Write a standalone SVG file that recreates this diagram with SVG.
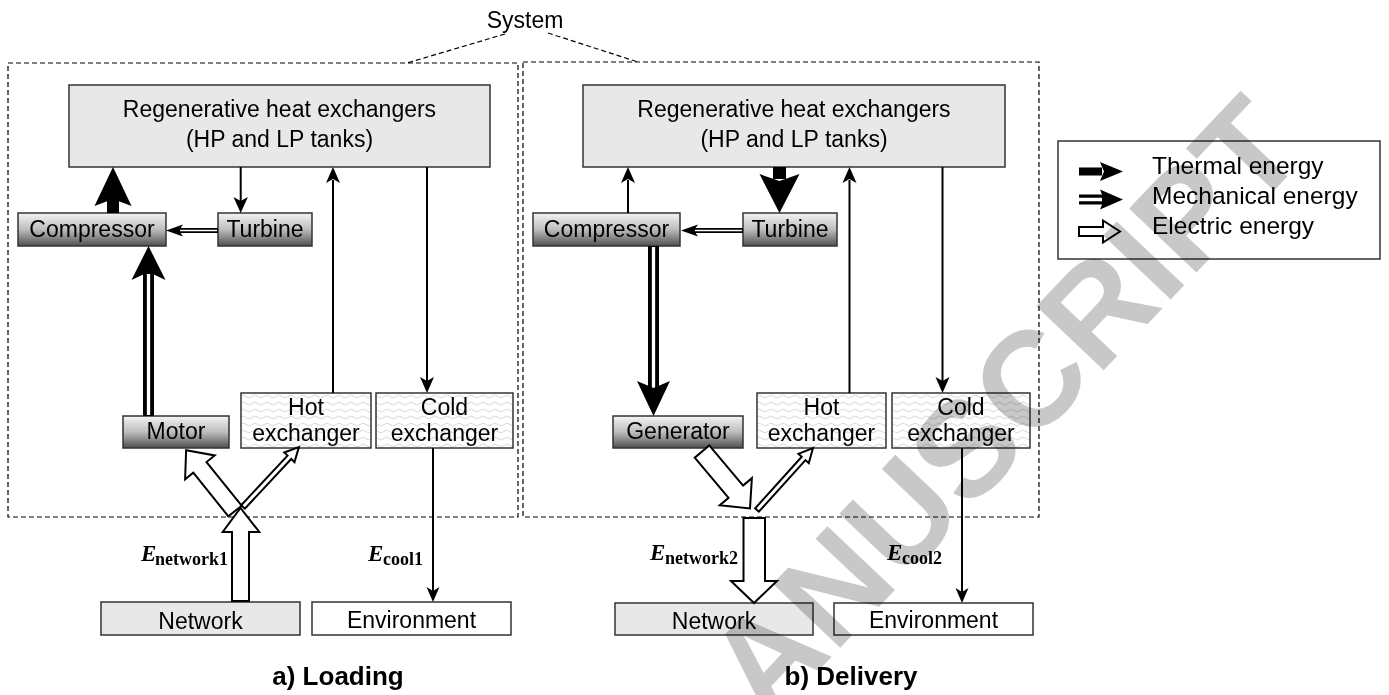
<svg xmlns="http://www.w3.org/2000/svg" width="1389" height="695" viewBox="0 0 1389 695">
<defs>
<linearGradient id="g3d" x1="0" y1="0" x2="0" y2="1">
<stop offset="0" stop-color="#f4f4f4"/>
<stop offset="0.5" stop-color="#bdbdbd"/>
<stop offset="1" stop-color="#505050"/>
</linearGradient>
<pattern id="wave" width="12" height="7" patternUnits="userSpaceOnUse">
<rect width="12" height="7" fill="#fff"/>
<path d="M0,4.5 Q3,1.5 6,4.5 T12,4.5" fill="none" stroke="#d2d2d2" stroke-width="0.9"/>
</pattern>
</defs>
<style>
.t{font-family:"Liberation Sans",Arial,sans-serif;font-size:23px;fill:#000;text-anchor:middle}
.box{stroke:#333;stroke-width:1.5}
.hx{fill:#e8e8e8}
.g{fill:url(#g3d)}
.w{fill:url(#wave)}
.wh{fill:#fff}
.dash{fill:none;stroke:#000;stroke-width:1.2;stroke-dasharray:5,3}
.ln{fill:none;stroke:#000;stroke-width:2}
.hd{fill:#000}
.el{fill:#fff;stroke:#000;stroke-width:2;stroke-linejoin:miter}
.mb{fill:none;stroke:#000}
.mw{fill:none;stroke:#fff}
.E{font-family:"Liberation Serif","Times New Roman",serif;font-weight:bold;font-style:italic;font-size:23px}
.s{font-family:"Liberation Serif","Times New Roman",serif;font-weight:bold;font-size:18px}
.cap{font-family:"Liberation Sans",Arial,sans-serif;font-weight:bold;font-size:26px;text-anchor:middle}
.lg{font-family:"Liberation Sans",Arial,sans-serif;font-size:24.5px}
</style>

<g id="system">
<rect class="dash" x="8" y="63" width="510" height="454"/>
<rect class="dash" x="523" y="62" width="516" height="455"/>
<path class="dash" d="M505,34 L407,63 M548,33 L638,62"/>
<text class="t" x="525" y="28" font-size="25">System</text>
</g>

<g id="hx-a"><rect class="box hx" x="69" y="85" width="421" height="82"/>
<text class="t" x="279.5" y="117">Regenerative heat exchangers</text><text class="t" x="279.5" y="147">(HP and LP tanks)</text></g>
<g id="compressor-a"><rect class="box g" x="18" y="213" width="148" height="33"/><text class="t" x="92" y="237">Compressor</text></g>
<g id="turbine-a"><rect class="box g" x="218" y="213" width="94" height="33"/><text class="t" x="265" y="237">Turbine</text></g>
<g id="motor-a"><rect class="box g" x="123" y="416" width="106" height="32"/><text class="t" x="176" y="439">Motor</text></g>
<g id="hot-a"><rect class="box w" x="241" y="393" width="130" height="55"/><text class="t" x="306" y="415">Hot</text><text class="t" x="306" y="441">exchanger</text></g>
<g id="cold-a"><rect class="box w" x="376" y="393" width="137" height="55"/><text class="t" x="444.5" y="415">Cold</text><text class="t" x="444.5" y="441">exchanger</text></g>
<g id="network-a"><rect class="box hx" x="101" y="602" width="199" height="33"/><text class="t" x="200.5" y="629" font-size="28">Network</text></g>
<g id="environment-a"><rect class="box wh" x="312" y="602" width="199" height="33"/><text class="t" x="411.5" y="628" font-size="25">Environment</text></g>

<g id="hx-b"><rect class="box hx" x="583" y="85" width="422" height="82"/>
<text class="t" x="794" y="117">Regenerative heat exchangers</text><text class="t" x="794" y="147">(HP and LP tanks)</text></g>
<g id="compressor-b"><rect class="box g" x="533" y="213" width="147" height="33"/><text class="t" x="606.5" y="237">Compressor</text></g>
<g id="turbine-b"><rect class="box g" x="743" y="213" width="94" height="33"/><text class="t" x="790" y="237">Turbine</text></g>
<g id="generator-b"><rect class="box g" x="613" y="416" width="130" height="32"/><text class="t" x="678" y="439">Generator</text></g>
<g id="hot-b"><rect class="box w" x="757" y="393" width="129" height="55"/><text class="t" x="821.5" y="415">Hot</text><text class="t" x="821.5" y="441">exchanger</text></g>
<g id="cold-b"><rect class="box w" x="892" y="393" width="138" height="55"/><text class="t" x="961" y="415">Cold</text><text class="t" x="961" y="441">exchanger</text></g>
<g id="network-b"><rect class="box hx" x="615" y="603" width="198" height="32"/><text class="t" x="714" y="629" font-size="28">Network</text></g>
<g id="environment-b"><rect class="box wh" x="834" y="603" width="199" height="32"/><text class="t" x="933.5" y="628" font-size="25">Environment</text></g>

<g id="connectors">
<!-- a) Loading -->
<rect class="hd" x="107" y="198" width="12" height="15"/>
<path class="hd" d="M113,167 L131.5,206 L113,199 L94.5,206 Z"/>
<path class="ln" d="M240.7,167 V203"/><path class="hd" d="M240.7,213 L233.5,197 L240.7,201 L247.9,197 Z"/>
<path class="mb" stroke-width="5" d="M218,230.5 H179"/><path class="mw" stroke-width="1.7" d="M217,230.5 H180"/>
<path class="hd" d="M166,230.5 L183,224.5 L179,230.5 L183,236.5 Z"/>
<path class="mb" stroke-width="11" d="M148.5,416 V272"/><path class="mw" stroke-width="3.3" d="M148.5,415 V274"/>
<path class="hd" d="M148.5,246 L165.5,280 L148.5,272 L131.5,280 Z"/>
<path class="ln" d="M333,393 V180"/><path class="hd" d="M333,167 L340,183 L333,179 L326,183 Z"/>
<path class="ln" d="M427,167 V383"/><path class="hd" d="M427,393 L420,377 L427,381 L434,377 Z"/>
<path class="ln" d="M433,448 V592"/><path class="hd" d="M433,602 L426.5,587 L433,591 L439.5,587 Z"/>
<polygon class="el" points="232,601 232,532 222.7,532 240.5,508 259.3,532 249,532 249,601"/>
<polygon class="el" transform="translate(235,511) rotate(-128.8)" points="0,-8.5 56,-8.5 56,-19 78,0 56,19 56,8.5 0,8.5"/>
<polygon class="el" stroke-width="1.5" transform="translate(243,507) rotate(-47)" points="0,-2.5 68,-2.5 68,-7 82,0 68,7 68,2.5 0,2.5"/>
<!-- b) Delivery -->
<path class="ln" d="M628,213 V180"/><path class="hd" d="M628,167 L635,183 L628,179 L621,183 Z"/>
<rect class="hd" x="773" y="167" width="13" height="12"/>
<path class="hd" d="M779.5,213 L799.5,174 L779.5,181 L759.5,174 Z"/>
<path class="mb" stroke-width="5" d="M743,230.5 H694"/><path class="mw" stroke-width="1.7" d="M742,230.5 H695"/>
<path class="hd" d="M681,230.5 L698,224.5 L694,230.5 L698,236.5 Z"/>
<path class="mb" stroke-width="11" d="M653.5,246 V390"/><path class="mw" stroke-width="3.3" d="M653.5,247 V388"/>
<path class="hd" d="M653.5,416 L670,381 L653.5,388 L637,381 Z"/>
<path class="ln" d="M849.5,393 V180"/><path class="hd" d="M849.5,167 L856.5,183 L849.5,179 L842.5,183 Z"/>
<path class="ln" d="M942.5,167 V383"/><path class="hd" d="M942.5,393 L935.5,377 L942.5,381 L949.5,377 Z"/>
<path class="ln" d="M962,448 V593"/><path class="hd" d="M962,603 L955.5,588 L962,592 L968.5,588 Z"/>
<polygon class="el" transform="translate(702,451.5) rotate(49.9)" points="0,-9.5 52.5,-9.5 52.5,-21 74.5,0 52.5,21 52.5,9.5 0,9.5"/>
<polygon class="el" stroke-width="1.5" transform="translate(757,510) rotate(-47.9)" points="0,-2.5 69.5,-2.5 69.5,-7 83.5,0 69.5,7 69.5,2.5 0,2.5"/>
<polygon class="el" points="743.5,518 765,518 765,581 777,581 754,603 731,581 743.5,581"/>
</g>

<g id="labels">
<text class="E" x="141" y="561">E</text><text class="s" x="155" y="565">network1</text>
<text class="E" x="368" y="561">E</text><text class="s" x="383" y="565">cool1</text>
<text class="E" x="650" y="560">E</text><text class="s" x="665" y="564">network2</text>
<text class="E" x="887" y="560">E</text><text class="s" x="902" y="564">cool2</text>
<text class="cap" x="338" y="685">a) Loading</text>
<text class="cap" x="851" y="685">b) Delivery</text>
</g>

<g id="legend">
<rect x="1058" y="141" width="322" height="118" fill="#fff" stroke="#333" stroke-width="1.5"/>
<rect class="hd" x="1079" y="167.5" width="23" height="8"/>
<path class="hd" d="M1123,171.5 L1100,162 L1104,171.5 L1100,181 Z"/>
<path class="mb" stroke-width="10" d="M1079,199.5 H1104"/><path class="mw" stroke-width="3.5" d="M1079,199.5 H1102"/>
<path class="hd" d="M1123,199.5 L1100,189.5 L1104,199.5 L1100,209.5 Z"/>
<polygon class="el" points="1079,227 1103,227 1103,220.5 1120,231.5 1103,242.5 1103,236 1079,236"/>
<text class="lg" x="1152" y="174">Thermal energy</text>
<text class="lg" x="1152" y="204">Mechanical energy</text>
<text class="lg" x="1152" y="234">Electric energy</text>
</g>

<text id="watermark" x="0" y="0" transform="translate(767,725) rotate(-46.5)" font-family="'Liberation Sans',Arial,sans-serif" font-weight="bold" font-size="135" fill="#c8c8c8" style="mix-blend-mode:multiply">ANUSCRIPT</text>
</svg>
